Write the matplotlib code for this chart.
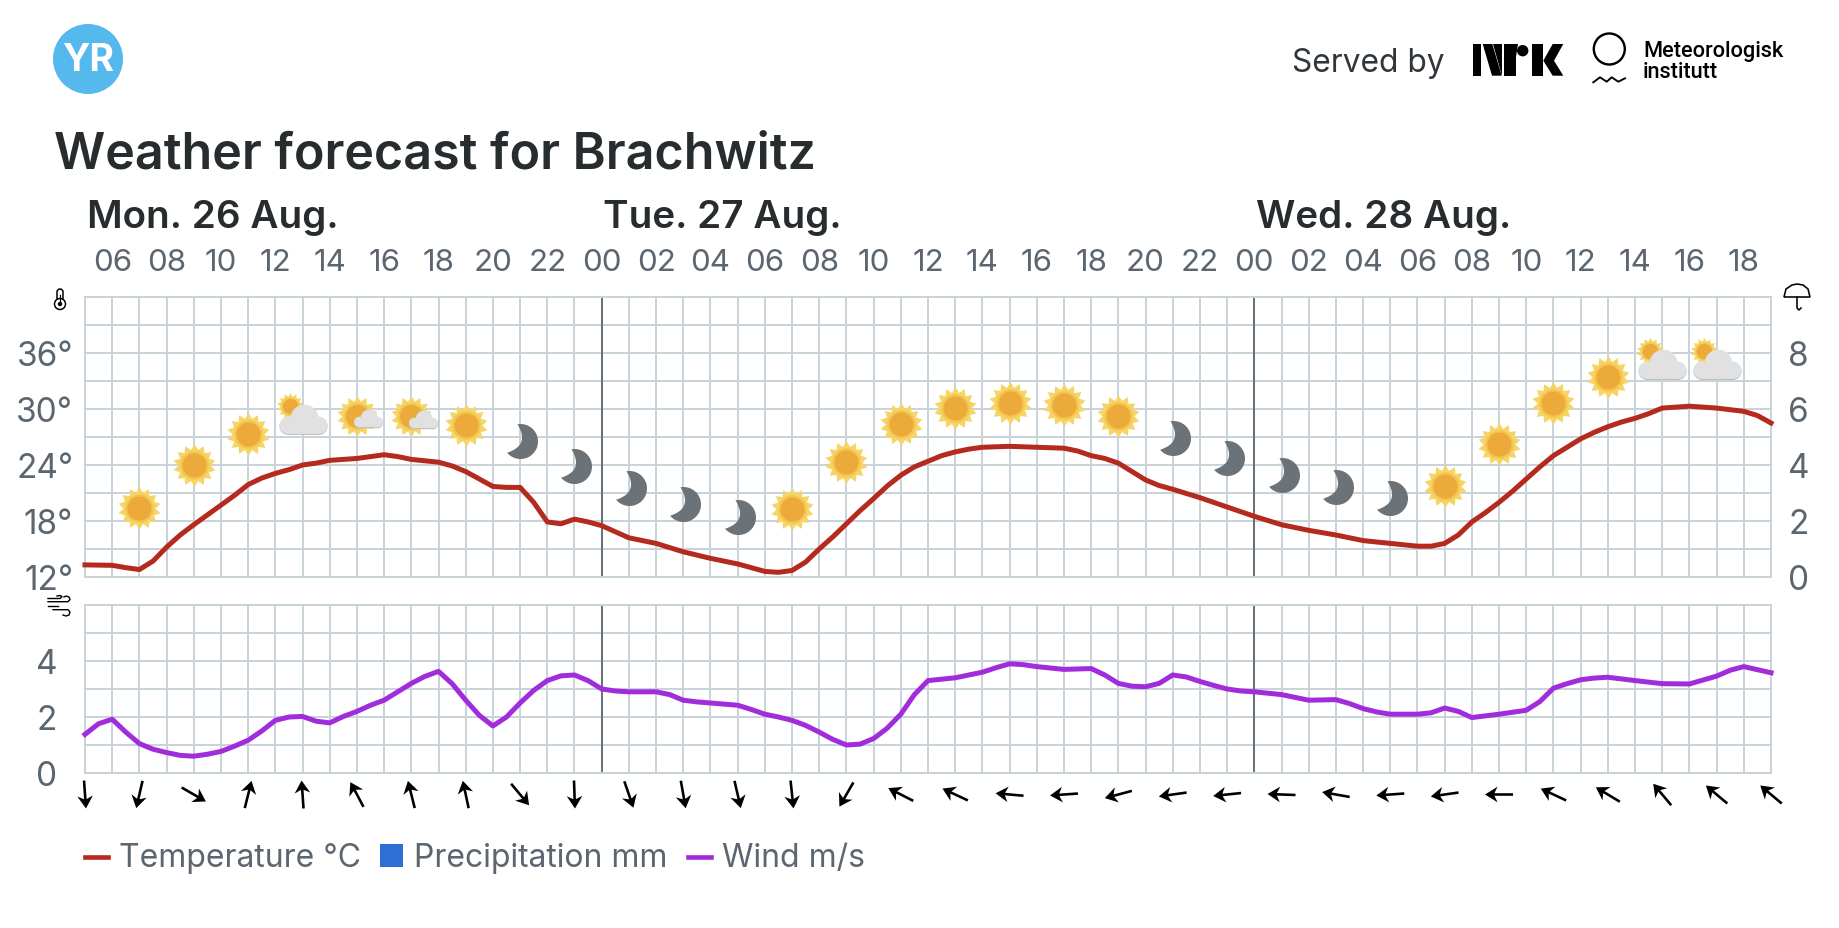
import numpy as np
import matplotlib
matplotlib.use("Agg")
import matplotlib.pyplot as plt
from matplotlib.lines import Line2D
from matplotlib.patches import Circle, FancyBboxPatch, Polygon, Rectangle
from matplotlib.path import Path
from matplotlib.transforms import Affine2D

plt.rcParams["font.family"] = ["Inter", "DejaVu Sans"]

# =============================================================
# DATA
# =============================================================
hour_labels = ["06", "08", "10", "12", "14", "16", "18", "20", "22",
               "00", "02", "04", "06", "08", "10", "12", "14", "16", "18", "20", "22",
               "00", "02", "04", "06", "08", "10", "12", "14", "16", "18"]
day_labels = ["Mon. 26 Aug.", "Tue. 27 Aug.", "Wed. 28 Aug."]
midnights = [19, 43]

temp_hours = [0, 1, 1.5, 2, 2.5, 3, 3.5, 4, 5, 5.5,
              6, 6.5, 7, 7.5, 8, 8.5, 9, 10, 10.5, 11,
              11.5, 12, 13, 13.5, 14, 14.5, 15, 15.5, 16, 16.5,
              17, 17.5, 18, 18.5, 19, 20, 21, 22, 23, 24,
              25, 25.5, 26, 26.5, 27, 27.5, 28, 28.5, 29, 29.5,
              30, 30.5, 31, 31.5, 32, 32.5, 33, 34, 35, 36,
              36.5, 37, 37.5, 38, 38.5, 39, 39.5, 40, 41, 42,
              43, 44, 45, 46, 47, 48, 49, 49.5, 50, 50.5,
              51, 51.5, 52, 52.5, 53, 53.5, 54, 54.5, 55, 55.5,
              56, 56.5, 57, 57.5, 58, 59, 60, 61, 61.5, 62]
temp_values = [13.3, 13.25, 13.0, 12.8, 13.7, 15.2, 16.5, 17.6, 19.7, 20.75,
               21.9, 22.6, 23.1, 23.5, 24.0, 24.2, 24.5, 24.7, 24.9, 25.1,
               24.9, 24.6, 24.3, 23.9, 23.3, 22.5, 21.7, 21.6, 21.6, 20.0,
               17.9, 17.7, 18.2, 17.9, 17.5, 16.2, 15.6, 14.7, 14.0, 13.4,
               12.6, 12.5, 12.7, 13.6, 15.0, 16.3, 17.7, 19.1, 20.4, 21.75,
               22.9, 23.8, 24.4, 25.0, 25.4, 25.7, 25.9, 26.0, 25.9, 25.8,
               25.5, 25.0, 24.7, 24.2, 23.3, 22.4, 21.8, 21.4, 20.5, 19.5,
               18.5, 17.6, 17.0, 16.5, 15.9, 15.6, 15.3, 15.3, 15.6, 16.5,
               17.9, 18.9, 20.0, 21.2, 22.5, 23.8, 25.0, 25.9, 26.8, 27.5,
               28.1, 28.6, 29.0, 29.5, 30.1, 30.3, 30.1, 29.75, 29.3, 28.5]

wind_hours = [0, 0.5, 1, 1.5, 2, 2.5, 3, 3.5, 4, 4.5,
              5, 5.5, 6, 6.5, 7, 7.5, 8, 8.5, 9, 9.5,
              10, 10.5, 11, 11.5, 12, 12.5, 13, 13.5, 14, 14.5,
              15, 15.5, 16, 16.5, 17, 17.5, 18, 18.5, 19, 19.5,
              20, 21, 21.5, 22, 22.5, 23, 24, 24.5, 25, 25.5,
              26, 26.5, 27, 27.5, 28, 28.5, 29, 29.5, 30, 30.5,
              31, 32, 33, 33.5, 34, 34.5, 35, 36, 37, 37.5,
              38, 38.5, 39, 39.5, 40, 40.5, 41, 41.5, 42, 42.5,
              43, 44, 45, 46, 46.5, 47, 47.5, 48, 49, 49.5,
              50, 50.5, 51, 51.5, 52, 53, 53.5, 54, 54.5, 55,
              55.5, 56, 57, 58, 59, 60, 60.5, 61, 62]
wind_values = [1.38, 1.76, 1.92, 1.46, 1.05, 0.85, 0.73, 0.63, 0.6, 0.67,
               0.77, 0.96, 1.17, 1.5, 1.88, 2.0, 2.02, 1.85, 1.79, 2.02,
               2.2, 2.42, 2.6, 2.9, 3.2, 3.45, 3.63, 3.19, 2.6, 2.06,
               1.68, 2.0, 2.5, 2.95, 3.3, 3.47, 3.5, 3.3, 3.0, 2.93,
               2.9, 2.9, 2.8, 2.6, 2.54, 2.5, 2.42, 2.27, 2.1, 2.0,
               1.88, 1.7, 1.46, 1.2, 1.0, 1.03, 1.23, 1.6, 2.1, 2.8,
               3.3, 3.4, 3.6, 3.76, 3.9, 3.87, 3.8, 3.7, 3.73, 3.5,
               3.2, 3.1, 3.08, 3.2, 3.5, 3.43, 3.27, 3.13, 3.0, 2.93,
               2.9, 2.8, 2.6, 2.62, 2.48, 2.3, 2.18, 2.1, 2.1, 2.15,
               2.32, 2.2, 1.98, 2.04, 2.1, 2.24, 2.55, 3.03, 3.19, 3.33,
               3.39, 3.42, 3.3, 3.19, 3.18, 3.46, 3.67, 3.8, 3.58]

precip_mm = [0] * 62  # no rain in this forecast, legend entry only

wind_arrow_hours = list(range(0, 63, 2))
wind_arrow_deg = [274, 257, 330, 76, 94, 118, 104, 102, 310, 272, 289, 280, 283, 276, 240, 153,
                  155, 175, 184, 195, 188, 186, 178, 170, 184, 188, 180, 155, 149, 130, 140, 140]

sun_hours = [2, 4, 6, 14, 26, 28, 30, 32, 34, 36, 38, 50, 52, 54, 56]
sun_temps = [19.4, 24.0, 27.3, 28.3, 19.3, 24.3, 28.4, 30.1, 30.6, 30.4, 29.3, 21.8, 26.3, 30.6, 33.4]
moon_hours = [16, 18, 20, 22, 24, 40, 42, 44, 46, 48]
moon_temps = [26.6, 23.9, 21.5, 19.8, 18.4, 26.9, 24.7, 22.9, 21.6, 20.5]
fair_hours = [10, 12]            # big sun, small cloud
fair_temps = [29.3, 29.2]
cloudy_hours = [8, 58, 60]       # small sun, big cloud
cloudy_temps = [28.8, 34.75, 34.7]

# =============================================================
# STYLE
# =============================================================
W, H = 1839, 929
PX = 0.72  # points per pixel at dpi 100
GRID = "#c9d3da"
MIDNIGHT = "#5f6972"
DARK = "#272c2f"
GREY = "#5c6670"
RED = "#b52a1e"
PURPLE = "#a02cdc"
BLUE = "#2e6fd6"


def ax_px(x0, y0, x1, y1):
    return fig.add_axes([x0 / W, 1 - y1 / H, (x1 - x0) / W, (y1 - y0) / H])


def style_grid(ax):
    ax.set_xlim(0, 62)
    ax.set_xticks(range(0, 63), minor=True)
    ax.grid(which="both", color=GRID, lw=2 * PX)
    ax.set_axisbelow(True)
    ax.tick_params(which="both", length=0)
    for s in ax.spines.values():
        s.set_color(GRID)
        s.set_linewidth(2 * PX)
    for m in midnights:
        ax.axvline(m, color=MIDNIGHT, lw=1.8 * PX, zorder=1.5)


def crescent():
    a = np.radians(np.linspace(100, -140, 50))
    outer = np.column_stack([np.cos(a), np.sin(a)])
    tip_b, tip_a = outer[-1], outer[0]
    ctrl = np.array([0.56, -0.21])
    t = np.linspace(0, 1, 30)[:, None]
    inner = (1 - t) ** 2 * tip_b + 2 * t * (1 - t) * ctrl + t ** 2 * tip_a
    return Path(np.vstack([outer, inner[1:]]), closed=True)


def cloud():
    rect = Path.unit_rectangle().transformed(Affine2D().scale(0.66, 0.24).translate(-0.32, -0.30))
    return Path.make_compound_path(
        rect,
        Path.circle((-0.32, -0.12), 0.18),
        Path.circle((0.02, 0.02), 0.29),
        Path.circle((0.32, -0.12), 0.18),
    )


SUN = Path.unit_regular_star(14, innerCircle=0.74)


def draw_sun(ax, xs, ys, dia):
    ax.scatter(xs, ys, marker=SUN, s=(dia * PX) ** 2, color="#f6d566", linewidths=0, zorder=4)
    ax.scatter(xs, ys, marker="o", s=(dia * 0.66 * PX) ** 2, color="#f4c64f", linewidths=0, zorder=5)
    ax.scatter(xs, ys, marker="o", s=(dia * 0.56 * PX) ** 2, color="#ecaa3a", linewidths=0, zorder=6)


def draw_cloud(ax, xs, ys, width):
    ys = np.asarray(ys, dtype=float)
    ax.scatter(xs, ys, marker=cloud(), s=(width * PX) ** 2, color="#bcbcbc", linewidths=0, zorder=7)
    ax.scatter(xs, ys + 0.12, marker=cloud(), s=(width * PX) ** 2, color="#e1e1e1", linewidths=0, zorder=8)


fig = plt.figure(figsize=(W / 100, H / 100), dpi=100, facecolor="white")

# =============================================================
# TEMPERATURE PANEL
# =============================================================
ax = ax_px(85, 298, 1771, 578)
style_grid(ax)
ax.set_ylim(12, 42)
ax.set_yticks(range(12, 37, 6), [f"{v}°" for v in range(12, 37, 6)], fontsize=24, color=GREY)
ax.set_yticks(range(12, 43, 3), minor=True)
ax.set_xticks(range(1, 62, 2), hour_labels, fontsize=22.5, color=GREY)
ax.xaxis.tick_top()
ax.tick_params(axis="x", which="both", pad=15)
ax.tick_params(axis="y", which="both", pad=8.5)

ax.plot(temp_hours, temp_values, color=RED, lw=5 * PX, solid_joinstyle="round", zorder=3, clip_on=False)

# weather symbols
draw_sun(ax, sun_hours, sun_temps, 43)
ax.scatter(moon_hours, moon_temps, marker=crescent(), s=(35 * PX) ** 2, color="#6b7379", linewidths=0, zorder=4)
draw_sun(ax, fair_hours, fair_temps, 41)
draw_cloud(ax, [h + 0.42 for h in fair_hours], [t - 0.35 for t in fair_temps], 29)
draw_sun(ax, [h - 0.45 for h in cloudy_hours], [t + 1.5 for t in cloudy_temps], 27)
draw_cloud(ax, cloudy_hours, cloudy_temps, 48)

# precipitation shares the grid, own scale on the right
ax2 = ax.twinx()
ax2.set_ylim(0, 10)
ax2.set_yticks(range(0, 9, 2), [str(v) for v in range(0, 9, 2)], fontsize=24, color=GREY)
ax2.tick_params(axis="y", length=0, pad=12.5)
ax2.bar(np.arange(62) + 0.5, precip_mm, width=0.8, color=BLUE, linewidth=0)
for s in ax2.spines.values():
    s.set_visible(False)

# =============================================================
# WIND PANEL
# =============================================================
ax3 = ax_px(85, 606, 1771, 774)
style_grid(ax3)
ax3.set_ylim(0, 6)
ax3.set_xticks(range(1, 62, 2), [""] * 31)
ax3.set_yticks(range(0, 5, 2), [str(v) for v in range(0, 5, 2)], fontsize=24, color=GREY)
ax3.set_yticks(range(0, 7), minor=True)
ax3.tick_params(axis="y", which="both", pad=20)
ax3.plot(wind_hours, wind_values, color=PURPLE, lw=5 * PX, solid_joinstyle="round", zorder=3, clip_on=False)

# wind direction arrows under the panel
ax4 = ax_px(85, 780, 1771, 811)
ax4.set_xlim(0, 62)
ax4.set_ylim(0, 1)
ax4.axis("off")
rad = np.radians(wind_arrow_deg)
ax4.quiver(wind_arrow_hours, [0.5] * len(wind_arrow_hours), 28 * np.cos(rad), 28 * np.sin(rad),
           pivot="mid", angles="uv", units="dots", scale_units="dots", scale=1,
           width=2.6, headwidth=6, headlength=4.8, headaxislength=3.6, color="black", clip_on=False)

# =============================================================
# TITLE, HEADER, LEGEND (pixel overlay)
# =============================================================
ov = fig.add_axes([0, 0, 1, 1], zorder=-1)
ov.set_xlim(0, W)
ov.set_ylim(H, 0)
ov.axis("off")

ov.add_patch(Circle((88, 60), 35, color="#56b9ee", lw=0))
ov.text(88, 61, "YR", color="white", fontsize=27, fontweight="bold", ha="center", va="center")

ov.text(54, 168, "Weather forecast for Brachwitz", fontsize=36.2, fontweight=600, color=DARK, va="baseline")
for x, label in zip([87, 603, 1256], day_labels):
    ov.text(x, 228, label, fontsize=27.8, fontweight=600, color=DARK, va="baseline")

ov.text(1292, 72, "Served by", fontsize=22.8, color="#30363b", va="baseline")

# NRK mark
for pts in [[(1472.7, 45), (1481.3, 45), (1481.3, 76.7), (1472.7, 76.7)],
            [(1482.7, 45), (1492.3, 45), (1501.7, 76.7), (1492, 76.7)],
            [(1493.3, 45), (1501.7, 45), (1501.7, 76.7)],
            [(1504, 45), (1516, 45), (1516, 76.7), (1504, 76.7)],
            [(1516, 45), (1518, 45), (1516, 58)],
            [(1531.7, 45), (1543.3, 45), (1543.3, 76.7), (1531.7, 76.7)],
            [(1543.3, 61.7), (1552.7, 45), (1563.3, 45), (1554, 61.7), (1563.3, 76.7), (1552.7, 76.7)]]:
    ov.add_patch(Polygon(pts, color="black", lw=0))
ov.add_patch(Circle((1522.7, 51.7), 5.7, color="black", lw=0))

# MET mark
ov.add_patch(Circle((1609.3, 50), 15.5, fill=False, edgecolor="black", lw=2.4 * PX))
ov.plot([1593.3, 1600, 1606.7, 1611.7, 1618.3, 1625], [83.3, 78.3, 82.7, 78.3, 82.7, 79.3], color="black", lw=1.9 * PX)
ov.text(1643, 57, "Meteorologisk", fontsize=15.7, fontweight=500, color="black", va="baseline", family=["Roboto", "DejaVu Sans"])
ov.text(1643, 78, "institutt", fontsize=15.7, fontweight=500, color="black", va="baseline", family=["Roboto", "DejaVu Sans"])

# thermometer
ov.add_patch(FancyBboxPatch((57, 290), 6, 14, boxstyle="round,pad=0,rounding_size=3", fill=False, edgecolor="black", lw=1.5 * PX))
ov.add_patch(Circle((60, 305), 5.5, facecolor="white", edgecolor="black", lw=1.5 * PX, zorder=3))
ov.add_patch(Circle((60, 305), 2.2, color="black", lw=0, zorder=4))
ov.plot([60, 60], [296, 305], color="black", lw=1.2 * PX, zorder=4)

# umbrella
ov.add_patch(Polygon([(1784, 298), (1786, 290), (1792, 286), (1797, 285), (1803, 286), (1808, 290), (1810, 298)],
                     fill=False, edgecolor="black", lw=1.6 * PX))
ov.plot([1797, 1797, 1799, 1801], [298, 309, 311, 309], color="black", lw=1.6 * PX)

# wind glyph
ov.plot([48, 60, 62, 60, 57], [599.5, 599.5, 597.5, 596.5, 597], color="black", lw=1.4 * PX)
ov.plot([48, 68, 70, 69, 66, 64], [602.7, 602.7, 600.5, 598, 597, 598], color="black", lw=1.4 * PX)
ov.plot([48, 58], [606.7, 606.7], color="black", lw=1.4 * PX)
ov.plot([53, 68, 70, 69, 66, 63], [610.7, 610.7, 613, 616, 617, 616], color="black", lw=1.4 * PX)

# legend
ov.add_line(Line2D([85, 108], [858, 858], color=RED, lw=4.6 * PX))
ov.text(119, 859, "Temperature °C", fontsize=23, color=GREY, va="center")
ov.add_patch(Rectangle((380, 845), 23, 23, color=BLUE, lw=0))
ov.text(414, 859, "Precipitation mm", fontsize=23, color=GREY, va="center")
ov.add_line(Line2D([688, 711], [858, 858], color=PURPLE, lw=4.6 * PX))
ov.text(722, 859, "Wind m/s", fontsize=23, color=GREY, va="center")

fig.savefig("out.png", dpi=100)
